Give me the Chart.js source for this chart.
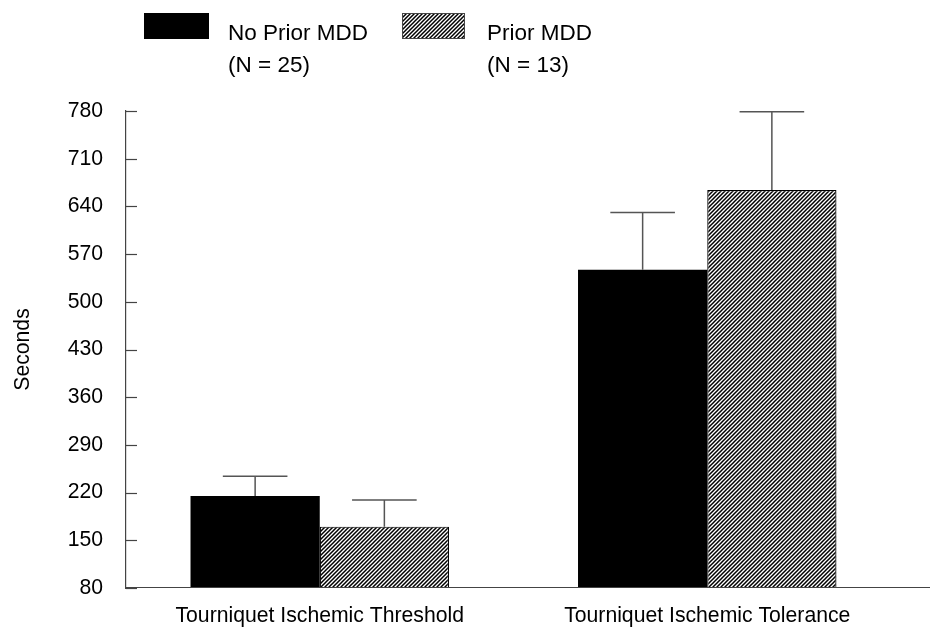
<!DOCTYPE html>
<html>
<head>
<meta charset="utf-8">
<script src="https://cdn.jsdelivr.net/npm/chart.js@4/dist/chart.umd.min.js"></script>
<style>
  html, body { margin: 0; padding: 0; background: #fff; }
  #wrap { width: 930px; height: 629px; position: relative; }
</style>
</head>
<body>
<div id="wrap"><canvas id="c" width="930" height="629"></canvas></div>
<script>
// ---- data ----
const categories = ['Tourniquet Ischemic Threshold', 'Tourniquet Ischemic Tolerance'];
const seriesNames = ['No Prior MDD', 'Prior MDD'];
const seriesN = ['(N = 25)', '(N = 13)'];
const noPriorMeans = [215, 547];
const noPriorSEM = [29, 84];
const priorMeans = [170, 664];
const priorSEM = [39, 115];
const yMin = 80, yMax = 780, yStep = 70;
const yTitle = 'Seconds';

const FONT = '"Liberation Sans", Arial, sans-serif';
const FS = 21.2;
const LFS = 22.5;

function makeHatch() {
  const s = 4;
  const c = document.createElement('canvas');
  c.width = s; c.height = s;
  const g = c.getContext('2d');
  g.fillStyle = '#fff';
  g.fillRect(0, 0, s, s);
  g.strokeStyle = '#000';
  g.lineWidth = 1.5;
  g.beginPath();
  g.moveTo(-1, s + 1); g.lineTo(s + 1, -1);
  g.moveTo(-1, 1); g.lineTo(1, -1);
  g.moveTo(s - 1, s + 1); g.lineTo(s + 1, s - 1);
  g.stroke();
  return document.getElementById('c').getContext('2d').createPattern(c, 'repeat');
}
const hatch = makeHatch();

const errors = [noPriorSEM, priorSEM];

const extrasPlugin = {
  id: 'extras',
  afterDatasetsDraw(chart) {
    const ctx = chart.ctx;
    const y = chart.scales.y;
    const area = chart.chartArea;
    ctx.save();
    // error bars
    ctx.strokeStyle = '#555';
    ctx.lineWidth = 1.5;
    chart.data.datasets.forEach((ds, di) => {
      const meta = chart.getDatasetMeta(di);
      meta.data.forEach((bar, i) => {
        const top = y.getPixelForValue(ds.data[i] + errors[di][i]);
        const half = bar.width / 4;
        ctx.beginPath();
        ctx.moveTo(bar.x, bar.y);
        ctx.lineTo(bar.x, top);
        ctx.moveTo(bar.x - half, top);
        ctx.lineTo(bar.x + half, top);
        ctx.stroke();
      });
    });
    // baseline extended to canvas edge
    const by = Math.round(y.getPixelForValue(yMin)) - 0.5;
    ctx.strokeStyle = '#444';
    ctx.lineWidth = 1.2;
    ctx.beginPath();
    ctx.moveTo(area.left, by);
    ctx.lineTo(chart.width, by);
    ctx.stroke();
    // inward tick marks
    y.ticks.forEach(t => {
      const py = Math.round(y.getPixelForValue(t.value)) + 0.5;
      ctx.beginPath();
      ctx.moveTo(area.left, py);
      ctx.lineTo(area.left + 11, py);
      ctx.stroke();
    });
    ctx.restore();
  },
  afterDraw(chart) {
    const ctx = chart.ctx;
    ctx.save();
    const items = [
      { box: [144, 13, 65, 26], fill: '#000', tx: 228 },
      { box: [402, 13, 63, 26], fill: hatch, tx: 487 }
    ];
    ctx.font = LFS + 'px ' + FONT;
    ctx.textBaseline = 'alphabetic';
    ctx.textAlign = 'left';
    items.forEach((it, i) => {
      ctx.fillStyle = it.fill;
      ctx.fillRect(it.box[0], it.box[1], it.box[2], it.box[3]);
      if (i === 1) {
        ctx.strokeStyle = '#444';
        ctx.lineWidth = 1;
        ctx.strokeRect(it.box[0] + 0.5, it.box[1] + 0.5, it.box[2] - 1, it.box[3] - 1);
      }
      ctx.fillStyle = '#000';
      ctx.fillText(seriesNames[i], it.tx, 39.5);
      ctx.fillText(seriesN[i], it.tx, 71.5);
    });
    ctx.restore();
  }
};

new Chart(document.getElementById('c'), {
  type: 'bar',
  data: {
    labels: categories,
    datasets: [
      { label: seriesNames[0], data: noPriorMeans, backgroundColor: '#000', borderWidth: 0 },
      { label: seriesNames[1], data: priorMeans, backgroundColor: hatch, borderColor: '#000', borderWidth: 1.2 }
    ]
  },
  options: {
    responsive: false,
    animation: false,
    devicePixelRatio: 1,
    layout: { padding: { top: 111, right: 29, left: 0, bottom: 0 } },
    plugins: { legend: { display: false }, tooltip: { enabled: false } },
    datasets: { bar: { categoryPercentage: 0.667, barPercentage: 1.0 } },
    scales: {
      x: {
        grid: { display: false, drawTicks: false },
        border: { display: false },
        ticks: { color: '#000', font: { family: FONT, size: FS }, padding: 15, maxRotation: 0 },
        afterFit(s) { s.height = 41; }
      },
      y: {
        min: yMin, max: yMax,
        grid: { drawOnChartArea: false, drawTicks: false },
        border: { display: true, color: '#444', width: 1.2 },
        ticks: { stepSize: yStep, color: '#000', font: { family: FONT, size: FS }, padding: 23 },
        title: { display: true, text: yTitle, color: '#000', font: { family: FONT, size: FS }, padding: { top: 10, bottom: 0 } },
        afterFit(s) { s.width = 126; }
      }
    }
  },
  plugins: [extrasPlugin]
});
</script>
</body>
</html>
